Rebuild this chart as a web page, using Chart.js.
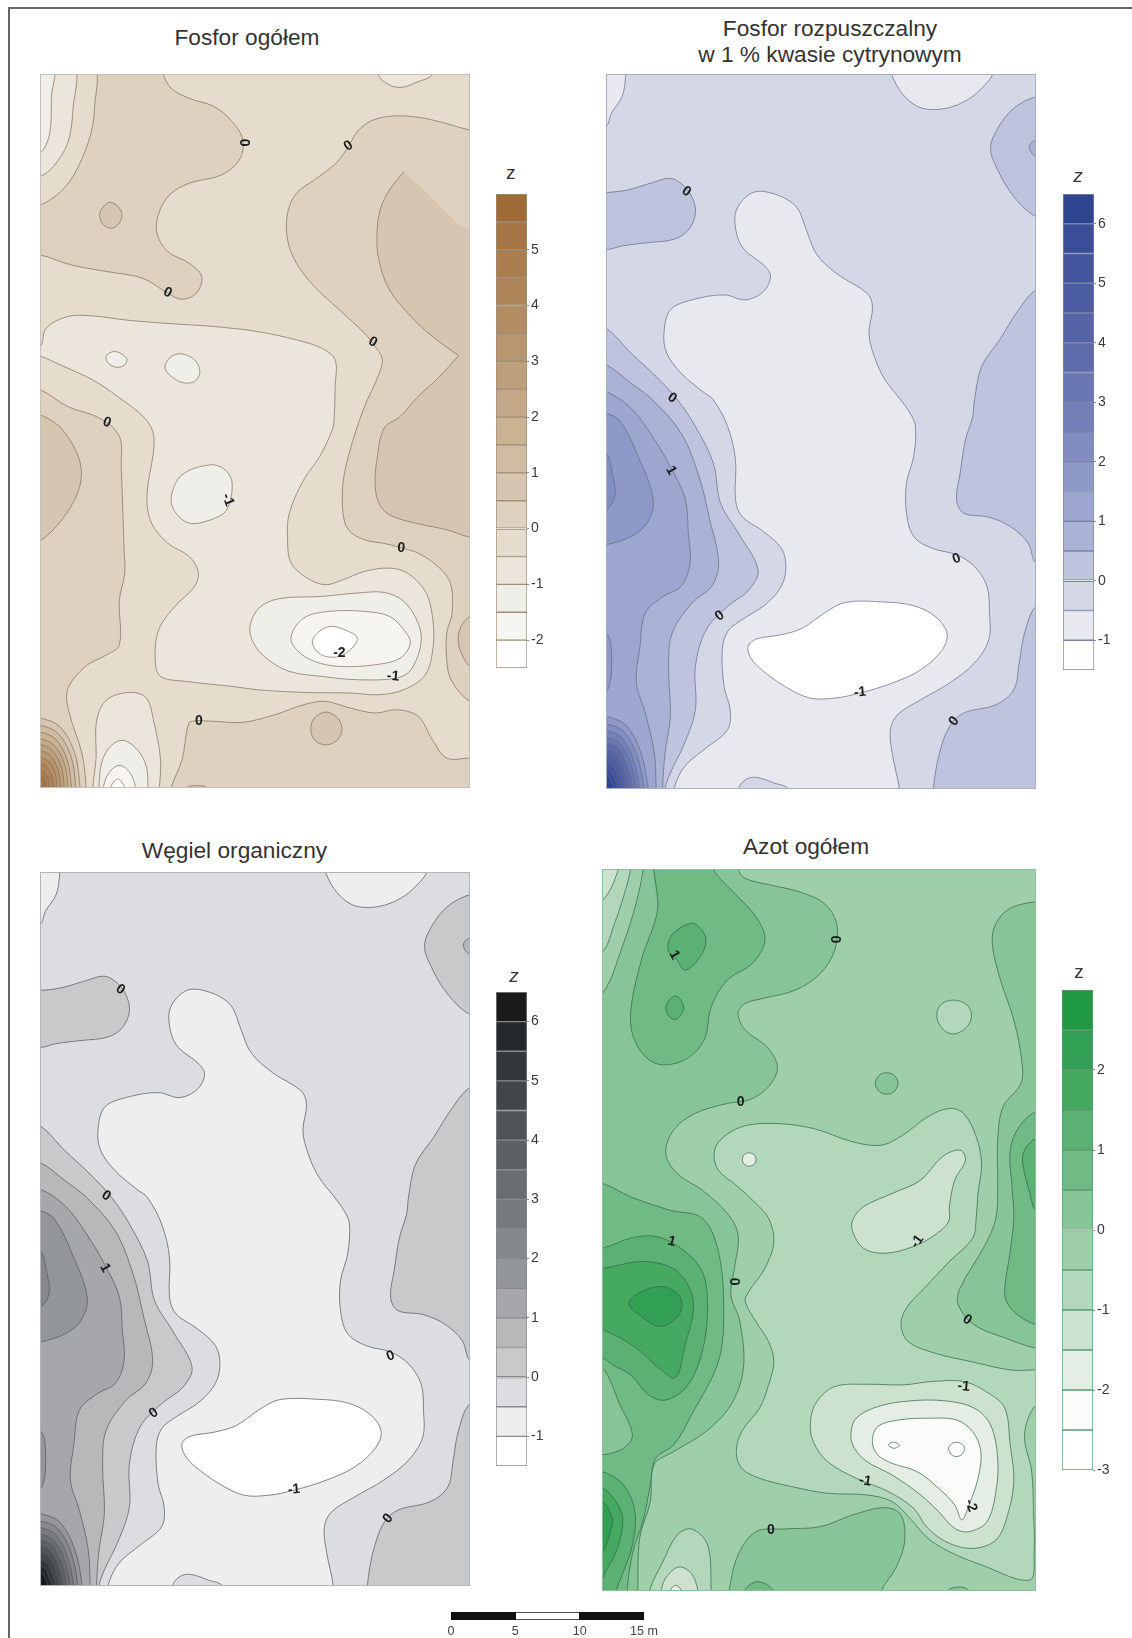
<!DOCTYPE html>
<html><head><meta charset="utf-8">
<script src="https://cdn.jsdelivr.net/npm/chart.js@4"></script>
<style>
html,body{margin:0;padding:0;background:#fff}
body{width:1132px;height:1638px;position:relative;overflow:hidden;font-family:"Liberation Sans",Arial,sans-serif;filter:blur(.45px)}
canvas{position:absolute;display:block}
.t{position:absolute;transform:translate(-50%,-50%);white-space:nowrap;color:#333;font-size:22.7px}
.z{position:absolute;transform:translate(-50%,-50%);color:#333;font-size:19px}
#frame{position:absolute;left:8px;top:7px;right:-5px;bottom:-5px;border-top:2px solid #666;border-left:2px solid #666}
</style></head><body>
<div id="frame"></div>
<script>
// Contour bands: [lower z of band, [x,y, x,y, ...]] in survey-grid units, painted in order.
const levelsA=[-2.5,-2,-1.5,-1,-0.5,0,0.5,1,1.5,2,2.5,3,3.5,4,4.5,5,5.5];
const colorsA=['#ffffff','#f6f5f1','#f0eee8','#ebe5db','#e5dccd','#dfd1c0','#d6c6b1','#cfbca3','#c9b393','#c3a988','#bca07c','#b89770','#b28d64','#ae8559','#aa7d4f','#a57546','#9f6b36'];
const ticksA=[-2,-1,0,1,2,3,4,5];
const levelsB=[-1.5,-1,-0.5,0,0.5,1,1.5,2,2.5,3,3.5,4,4.5,5,5.5,6];
const colorsB=['#ffffff','#e8e9ee','#d4d8e6','#bec4de','#aab3d6','#9ca6cf','#8e99c7','#818dc0','#7481b8','#6977b2','#5f6cab','#5564a7','#4c5ca2','#43549d','#3a4d98','#30458f'];
const colorsC=['#ffffff','#eeeeef','#dcdde0','#c8c9cb','#b7b8ba','#a5a7aa','#94979a','#85888c','#777b7f','#6a6e72','#5c6165','#4e5357','#414649','#33383b','#25292b','#181a1c'];
const ticksB=[-1,0,1,2,3,4,5,6];
const levelsD=[-3,-2.5,-2,-1.5,-1,-0.5,0,0.5,1,1.5,2,2.5];
const colorsD=['#ffffff','#fbfbf9','#e4eee5','#cde2ce','#b3d7bb','#9ecfaa','#87c498','#70ba86','#5ab173','#46a962','#32a054','#1f9a42'];
const ticksD=[-3,-2,-1,0,1,2];
const scaleSegments=[[0,5],[5,10],[10,15]];
const scaleTicks=[0,5,10,15];

const shapesA=[
[-0.5,[0,0,2000,0,2000,3000,0,3000,0,0]],
[0,[458,170,458,222,480,265,530,295,600,320,650,365,680,420,670,480,620,525,530,550,475,585,445,640,440,700,470,755,530,790,565,830,550,880,510,898,470,880,400,835,300,815,200,795,113,765,60,765,60,170,458,170]],
[0,[1315,390,1240,368,1170,352,1100,348,1040,362,1000,395,975,440,940,490,880,540,830,580,805,640,805,720,830,790,880,860,950,930,1020,1000,1050,1040,1070,1080,1050,1150,1028,1200,1000,1280,975,1370,960,1450,960,1540,975,1590,1020,1620,1080,1632,1125,1645,1170,1660,1225,1700,1260,1750,1265,1840,1250,1900,1250,1980,1262,2040,1315,2105,1360,2105,1360,390,1315,390]],
[0,[113,1170,190,1220,280,1255,335,1310,340,1400,348,1650,350,1720,335,1800,335,1935,300,1965,240,2000,190,2070,195,2140,230,2260,242,2365,242,2420,60,2420,60,1170,113,1170]],
[0,[480,2420,480,2365,510,2280,525,2185,535,2165,600,2165,680,2168,770,2145,850,2115,910,2105,980,2125,1050,2140,1110,2130,1170,2150,1210,2220,1250,2275,1315,2275,1360,2275,1360,2420,480,2420]],
[0.5,[1130,515,1130,515,1090,570,1065,625,1055,700,1060,780,1090,870,1150,950,1210,1010,1283,1067,1283,1067,1230,1130,1170,1190,1120,1250,1075,1285,1055,1380,1050,1460,1065,1520,1100,1550,1170,1572,1250,1590,1315,1612,1360,1612,1360,693,1315,693,1260,650,1200,585,1130,515,1130,515]],
[0.5,[1340,1850,1315,1850,1290,1880,1282,1925,1295,1970,1315,2000,1340,2000,1340,1850]],
[0.5,[310,607,335,625,342,650,330,675,310,685,288,672,280,645,290,620,310,607]],
[0.5,[113,1245,180,1295,228,1405,205,1510,113,1625,60,1625,60,1245,113,1245]],
[0.5,[912,2137,945,2155,957,2187,945,2220,912,2236,880,2220,870,2187,880,2155,912,2137]],
[0.5,[525,2420,525,2365,550,2358,580,2365,580,2420,525,2420]],
[-0.5,[258,190,265,330,250,420,205,530,160,585,113,615,60,625,60,190,258,190]],
[-1,[205,190,205,330,190,430,150,500,113,530,60,540,60,190,205,190]],
[-1.5,[150,190,145,290,140,400,113,460,60,470,60,190,150,190]],
[-1,[1060,190,1060,228,1090,255,1125,262,1170,245,1210,225,1210,190,1060,190]],
[-1,[113,1040,130,985,190,950,260,948,350,960,460,970,600,980,720,995,830,1020,900,1045,938,1080,938,1160,935,1260,930,1290,895,1370,850,1440,810,1540,805,1620,815,1690,860,1735,910,1755,960,1740,1020,1715,1090,1705,1140,1720,1190,1775,1210,1850,1212,1940,1190,2025,1130,2070,1060,2085,980,2080,850,2078,720,2070,650,2060,520,2045,450,2030,435,1980,445,1890,490,1820,545,1760,555,1715,530,1670,470,1630,425,1570,412,1490,432,1320,410,1260,330,1190,260,1140,180,1100,113,1068,60,1050,60,1040,113,1040]],
[-1.5,[325,1055,355,1075,350,1095,325,1102,300,1085,300,1065,325,1055]],
[-1.5,[510,1062,545,1080,560,1115,545,1145,510,1148,475,1125,462,1100,480,1070,510,1062]],
[-1.5,[590,1395,630,1410,650,1450,635,1530,590,1560,530,1570,490,1535,480,1490,510,1425,590,1395]],
[-1.5,[700,1880,725,1825,780,1797,900,1790,1000,1780,1075,1778,1130,1805,1170,1870,1178,1930,1150,2010,1110,2035,1000,2040,900,2030,810,2015,745,1975,710,1930,700,1880]],
[-2,[815,1910,850,1855,920,1835,1020,1835,1090,1850,1130,1890,1148,1930,1120,1975,1050,1995,950,2000,880,1985,830,1950,815,1910]],
[-2.5,[875,1920,900,1890,930,1880,975,1895,1000,1915,985,1945,950,1970,905,1968,880,1945,875,1920]],
[-1,[275,2420,270,2260,272,2160,300,2100,365,2078,410,2095,430,2160,450,2280,447,2365,447,2420,275,2420]],
[-1.5,[278,2420,278,2365,285,2290,310,2240,345,2222,385,2250,410,2300,415,2365,415,2420,278,2420]],
[-2,[290,2420,290,2365,305,2320,335,2297,365,2320,380,2365,380,2420,290,2420]],
[-2.5,[310,2420,310,2365,330,2338,350,2365,350,2420,310,2420]],
[0.5,[60,2155,113,2155,169,2182,210,2260,225,2365,225,2420,60,2420,60,2155]],
[1,[60,2177,113,2177,163,2201,200,2271,213,2365,213,2420,60,2420,60,2177]],
[1.5,[60,2197,113,2197,157,2219,189,2281,201,2365,201,2420,60,2420,60,2197]],
[2,[60,2217,113,2217,152,2237,181,2291,191,2365,191,2420,60,2420,60,2217]],
[2.5,[60,2235,113,2235,147,2252,172,2300,181,2365,181,2420,60,2420,60,2235]],
[3,[60,2253,113,2253,142,2268,163,2309,171,2365,171,2420,60,2420,60,2253]],
[3.5,[60,2273,113,2273,137,2285,155,2319,161,2365,161,2420,60,2420,60,2273]],
[4,[60,2293,113,2293,132,2303,146,2329,151,2365,151,2420,60,2420,60,2293]],
[4.5,[60,2313,113,2313,127,2320,137,2339,141,2365,141,2420,60,2420,60,2313]],
[5,[60,2333,113,2333,122,2337,128,2349,131,2365,131,2420,60,2420,60,2333]]
];
const labelsA=[[682,428,'0',90],[975,438,'0',-35],[470,878,'0',25],[1043,1027,'0',30],[300,1268,'0',20],[638,1500,'-1',70],[1123,1645,'0',5],[950,1960,'-2',0],[1100,2030,'-1',5],[557,2165,'0',0]];

// Soluble phosphorus and organic carbon share these read-off outlines.
const shapesB=[
[-0.5,[0,0,2000,0,2000,3000,0,3000,0,0]],
[-1,[60,190,155,190,155,230,145,290,115,340,100,380,60,380,60,190]],
[-1,[898,190,905,240,940,295,985,325,1050,325,1110,300,1150,265,1180,225,1180,190,898,190]],
[0,[1302,290,1240,325,1195,385,1175,445,1195,510,1240,590,1302,650,1350,650,1350,290,1302,290]],
[0.5,[1350,420,1302,420,1285,435,1285,450,1302,470,1350,470,1350,420]],
[0,[100,578,160,570,230,548,280,535,315,555,340,590,350,640,330,690,290,718,220,728,150,737,100,750,60,750,60,578,100,578]],
[-1,[520,575,590,590,635,625,660,690,690,765,750,825,830,880,845,920,835,1000,850,1070,880,1140,920,1195,950,1240,965,1280,960,1370,940,1450,940,1540,960,1610,1010,1645,1080,1665,1130,1700,1165,1760,1172,1840,1170,1920,1130,1990,1060,2050,980,2100,915,2145,895,2190,900,2260,920,2368,920,2420,290,2420,290,2368,320,2300,380,2245,440,2190,447,2130,430,2060,425,1950,440,1895,480,1860,545,1815,590,1760,603,1700,590,1645,540,1595,480,1550,462,1500,462,1380,440,1280,400,1200,370,1175,310,1120,270,1060,262,1000,280,930,340,900,430,885,490,900,540,875,560,830,545,800,480,740,460,660,475,610,520,575]],
[-0.5,[470,2420,470,2368,490,2340,520,2333,570,2350,610,2368,610,2420,470,2420]],
[-1.5,[497,1940,520,1918,590,1905,650,1885,710,1840,770,1808,880,1807,960,1818,1020,1850,1053,1900,1040,1950,980,2010,900,2050,810,2080,740,2095,670,2095,600,2060,535,2010,505,1975,497,1940]],
[0,[1302,870,1250,935,1200,1020,1150,1100,1130,1200,1125,1250,1105,1320,1090,1420,1080,1500,1100,1540,1170,1552,1230,1580,1280,1630,1302,1690,1350,1690,1350,870,1302,870]],
[0,[1302,1820,1270,1900,1255,1990,1240,2070,1190,2115,1100,2140,1060,2180,1030,2270,1015,2368,1015,2420,1350,2420,1350,1820,1302,1820]],
[0,[100,985,170,1060,240,1130,300,1200,350,1280,400,1390,420,1510,470,1600,525,1710,500,1770,440,1820,380,1890,350,2000,350,2130,320,2230,280,2320,265,2368,265,2420,60,2420,60,985,100,985]],
[0.5,[100,1095,170,1150,230,1200,310,1300,360,1430,390,1560,415,1690,395,1760,340,1810,285,1900,275,2000,280,2150,265,2260,258,2368,258,2420,60,2420,60,1095,100,1095]],
[1,[100,1175,170,1225,230,1310,285,1410,322,1500,330,1600,335,1690,310,1760,260,1790,210,1840,195,1940,185,2050,210,2140,235,2260,240,2368,240,2420,60,2420,60,1175,100,1175]],
[1.5,[100,1240,140,1265,190,1370,232,1500,215,1570,170,1610,100,1635,60,1635,60,1240,100,1240]],
[2,[60,1360,100,1360,118,1420,125,1490,100,1530,60,1530,60,1360]],
[1.5,[60,1900,100,1900,115,1950,105,2070,60,2070,60,1900]],
[1.5,[60,2150,100,2150,156,2177,197,2258,218,2368,218,2420,60,2420,60,2150]],
[2,[60,2172,100,2172,150,2196,187,2269,206,2368,206,2420,60,2420,60,2172]],
[2.5,[60,2192,100,2192,144,2214,176,2279,194,2368,194,2420,60,2420,60,2192]],
[3,[60,2212,100,2212,139,2232,168,2289,184,2368,184,2420,60,2420,60,2212]],
[3.5,[60,2230,100,2230,134,2247,159,2298,174,2368,174,2420,60,2420,60,2230]],
[4,[60,2248,100,2248,129,2263,150,2307,164,2368,164,2420,60,2420,60,2248]],
[4.5,[60,2268,100,2268,124,2280,142,2317,154,2368,154,2420,60,2420,60,2268]],
[5,[60,2288,100,2288,119,2298,133,2327,144,2368,144,2420,60,2420,60,2288]],
[5.5,[60,2308,100,2308,114,2315,124,2337,134,2368,134,2420,60,2420,60,2308]],
[6,[60,2328,100,2328,109,2332,115,2347,122,2368,122,2420,60,2420,60,2328]]
];
const labelsB=[[325,575,'0',35],[285,1195,'0',35],[282,1412,'1',60],[1080,1677,'0',-20],[418,1848,'0',-35],[810,2078,'-1',-5],[1073,2165,'0',-50]];

const shapesD=[
[-0.5,[0,0,2000,0,2000,3000,0,3000,0,0]],
[0,[470,100,470,147,490,175,560,195,640,215,710,250,745,310,740,390,700,460,630,510,540,535,490,550,470,580,490,630,550,680,580,740,555,800,500,840,440,850,350,880,290,930,268,1000,300,1060,370,1110,440,1180,470,1244,460,1344,450,1424,475,1504,485,1644,450,1754,380,1834,290,1894,235,1934,225,2044,195,2154,190,2312,190,2360,50,2360,50,100,470,100]],
[0,[1302,245,1230,265,1190,310,1180,370,1200,470,1240,600,1262,720,1260,790,1210,860,1195,960,1195,1100,1190,1194,1160,1274,1090,1404,1085,1454,1130,1514,1220,1555,1302,1584,1350,1584,1350,245,1302,245]],
[0.5,[1302,875,1255,920,1230,990,1235,1100,1240,1194,1230,1294,1215,1424,1240,1474,1302,1514,1350,1514,1350,875,1302,875]],
[1,[1302,955,1270,990,1265,1030,1285,1120,1302,1170,1350,1170,1350,955,1302,955]],
[0.5,[245,100,245,270,200,420,170,580,185,670,240,730,320,720,375,660,395,560,440,480,510,430,545,360,520,290,460,220,400,147,400,100,245,100]],
[1,[340,310,375,340,378,380,350,430,320,450,300,420,275,390,285,345,340,310]],
[1,[295,528,310,540,318,565,310,585,295,598,278,590,268,565,278,540,295,528]],
[-0.5,[205,100,205,147,185,250,150,370,92,520,50,520,50,100,205,100]],
[-1,[170,100,170,147,150,230,125,310,92,395,50,395,50,100,170,100]],
[-1.5,[135,100,135,150,92,240,50,240,50,100,135,100]],
[-1,[403,1000,420,960,480,920,570,910,680,925,790,965,870,975,930,945,1000,890,1060,865,1100,880,1135,950,1150,1030,1140,1120,1135,1194,1125,1254,1060,1324,990,1404,940,1464,925,1514,945,1564,1020,1599,1120,1624,1230,1649,1302,1649,1350,1649,1350,1754,1302,1754,1270,1844,1290,1954,1295,2074,1297,2194,1285,2279,1150,2234,1060,2194,1000,2154,950,2094,900,2044,830,2024,720,2019,620,1999,530,1974,480,1944,465,1894,480,1834,530,1764,555,1694,570,1624,555,1564,520,1504,490,1444,500,1414,545,1344,570,1264,555,1194,520,1150,470,1100,415,1050,403,1000]],
[-1.5,[1090,990,1105,1020,1075,1080,1060,1160,1058,1204,1020,1244,960,1279,880,1299,820,1284,790,1234,790,1200,820,1160,900,1120,980,1080,1040,1010,1090,990]],
[-2,[500,998,515,1004,520,1018,515,1032,500,1038,487,1032,482,1018,487,1004,500,998]],
[-1,[1070,540,1110,555,1122,590,1105,625,1070,642,1040,625,1025,590,1035,555,1070,540]],
[0,[885,758,905,765,917,790,905,815,885,822,865,815,853,790,865,765,885,758]],
[-1.5,[672,1804,690,1744,740,1699,830,1692,930,1694,1010,1684,1100,1684,1170,1719,1215,1764,1230,1874,1240,1984,1220,2094,1190,2159,1130,2184,1060,2169,1000,2124,960,2064,890,2014,800,1974,720,1924,680,1864,672,1804]],
[-2,[785,1844,800,1794,860,1759,950,1742,1050,1742,1130,1764,1175,1814,1195,1914,1190,2014,1165,2104,1115,2134,1075,2124,1030,2074,980,2024,900,1964,830,1924,795,1884,785,1844]],
[-2.5,[845,1864,860,1819,920,1799,1000,1794,1080,1799,1125,1834,1148,1894,1140,1974,1115,2054,1095,2099,1075,2054,1030,2004,970,1954,900,1929,860,1904,845,1864]],
[-3,[890,1874,897,1868,905,1866,915,1869,920,1876,913,1882,905,1884,897,1881,890,1874]],
[-3,[1058,1884,1065,1872,1080,1866,1095,1872,1103,1884,1095,1902,1080,1909,1065,1902,1058,1884]],
[0.5,[92,1090,170,1130,280,1170,370,1194,415,1294,430,1474,415,1624,340,1784,290,1874,240,1914,225,1994,205,2100,175,2200,160,2312,160,2360,50,2360,50,1090,92,1090]],
[0,[50,1644,92,1644,140,1754,175,1844,150,1884,92,1904,50,1904,50,1644]],
[1,[92,1284,170,1254,240,1249,310,1284,370,1354,385,1464,370,1594,330,1694,270,1739,220,1724,170,1664,120,1634,92,1614,50,1614,50,1284,92,1284]],
[1.5,[92,1344,210,1324,300,1354,345,1444,320,1584,295,1672,250,1644,180,1579,92,1529,50,1529,50,1344,92,1344]],
[2,[165,1449,210,1409,270,1401,310,1434,305,1484,255,1519,200,1489,165,1449]],
[1,[50,1954,92,1954,150,1994,182,2074,175,2174,150,2254,130,2312,130,2360,50,2360,50,1954]],
[1.5,[50,2004,92,2004,135,2054,148,2104,130,2194,100,2254,92,2274,50,2274,50,2004]],
[2,[50,2044,92,2044,115,2084,120,2104,105,2164,92,2194,50,2194,50,2044]],
[-1,[222,2360,222,2312,260,2224,300,2144,340,2126,385,2174,395,2312,395,2360,222,2360]],
[-1.5,[255,2360,255,2312,270,2270,305,2240,340,2260,358,2312,358,2360,255,2360]],
[-2,[280,2360,280,2312,296,2295,312,2312,312,2360,280,2360]],
[0,[445,2360,445,2312,470,2204,520,2134,600,2126,700,2119,790,2084,880,2062,925,2084,935,2164,910,2244,870,2312,870,2360,445,2360]],
[0.5,[487,2360,487,2312,525,2284,570,2312,570,2360,487,2360]],
[0,[1055,2360,1055,2312,1090,2300,1115,2312,1115,2360,1055,2360]]
];
const labelsD=[[292,405,'1',60],[740,358,'0',90],[477,847,'0',0],[285,1264,'1',15],[458,1384,'0',90],[970,1264,'-1',-55],[1110,1499,'0',35],[1100,1699,'-1',5],[825,1982,'-1',10],[1120,2056,'-2',70],[562,2129,'0',0]];

const contourLabelPlugin={id:'contourLabels',afterDatasetsDraw(c,a,o){
  const g=c.ctx,sx=c.scales.x,sy=c.scales.y;
  g.save();g.beginPath();g.rect(c.chartArea.left,c.chartArea.top,c.chartArea.width,c.chartArea.height);g.clip();
  g.font='bold 14px "Liberation Sans"';g.textAlign='center';g.textBaseline='middle';g.fillStyle=o.color;
  for(const [x,y,t,r] of o.items){g.save();g.translate(sx.getPixelForValue(x),sy.getPixelForValue(y));g.rotate(r*Math.PI/180);g.fillText(t,0,0);g.restore();}
  g.restore();
  g.strokeStyle=o.frame;g.lineWidth=1;g.strokeRect(c.chartArea.left+.5,c.chartArea.top+.5,c.chartArea.width-1,c.chartArea.height-1);
}};

function mk(left,top,w,h){const e=document.createElement('canvas');e.width=w;e.height=h;e.style.left=left+'px';e.style.top=top+'px';document.body.appendChild(e);return e;}
function pairs(f){
  const r=[];for(let i=0;i<f.length;i+=2)r.push({x:f[i],y:f[i+1]});
  const n=r.length;
  if(n>3&&r[0].x===r[n-1].x&&r[0].y===r[n-1].y){r.unshift({...r[n-2]});r.push({...r[2]});}
  return r;
}

function contourPanel(box,xr,yr,shapes,levels,colors,labels,line,frame){
  const ds=shapes.map(([z,p])=>{
    const data=pairs(p),last=data.length-1;
    return {data,backgroundColor:colors[levels.indexOf(z)],borderColor:line,borderWidth:1,fill:'shape',pointRadius:0,tension:.35,parsing:false,normalized:false,
      segment:{borderColor:ctx=>(ctx.p0DataIndex===0||ctx.p1DataIndex===last)?'rgba(0,0,0,0)':undefined}};
  }).reverse();
  new Chart(mk(box[0],box[1],box[2],box[3]),{type:'line',data:{datasets:ds},plugins:[contourLabelPlugin],options:{
    responsive:false,animation:false,events:[],layout:{padding:0},
    plugins:{legend:{display:false},tooltip:{enabled:false},contourLabels:{items:labels,color:'#1d1d1d',frame}},
    scales:{x:{type:'linear',display:false,min:xr[0],max:xr[1]},y:{type:'linear',display:false,reverse:true,min:yr[0],max:yr[1]}}}});
}
function colorBar(x,y0,y1,w,levels,colors,ticks,line){
  const pad=10,axisW=34,top=levels[levels.length-1]+0.5,bottom=levels[0];
  const ds=levels.map((l,i)=>({data:[[l,l+0.5]],backgroundColor:colors[i],borderColor:line,borderWidth:1,borderSkipped:false,barPercentage:1,categoryPercentage:1,grouped:false}));
  new Chart(mk(x,y0-pad,w+axisW,y1-y0+2*pad),{type:'bar',data:{labels:['z'],datasets:ds},options:{
    responsive:false,animation:false,events:[],layout:{padding:{top:pad,bottom:pad,left:0,right:0}},
    plugins:{legend:{display:false},tooltip:{enabled:false}},
    scales:{x:{display:false,stacked:false},
      y:{position:'right',min:bottom,max:top,
        afterBuildTicks:s=>{s.ticks=ticks.map(v=>({value:v}));},
        afterFit:s=>{s.width=axisW;s.paddingTop=0;s.paddingBottom=0;},
        border:{display:false},
        grid:{drawOnChartArea:false,drawTicks:true,tickLength:2,color:'#8a8a8a'},
        ticks:{autoSkip:false,padding:2,color:'#3a3a3a',font:{family:'Liberation Sans',size:14},callback:v=>String(v)}}}}});
}

contourPanel([40,74,430,714],[113,1315],[222,2365],shapesA,levelsA,colorsA,labelsA,'rgba(125,110,95,.7)','#c6c0b6');
contourPanel([606,74,430,715],[100,1302],[222,2368],shapesB,levelsB,colorsB,labelsB,'rgba(100,105,130,.7)','#a9aec4');
contourPanel([40,872,430,714],[100,1302],[222,2368],shapesB,levelsB,colorsC,labelsB,'rgba(85,85,85,.7)','#b4b4b4');
contourPanel([602,869,434,722],[90,1302],[147,2312],shapesD,levelsD,colorsD,labelsD,'rgba(50,100,70,.7)','#8fbf9c');

colorBar(496,194,668,31,levelsA,colorsA,ticksA,'#a08e78');
colorBar(1063,194,670,31,levelsB,colorsB,ticksB,'#7d84a8');
colorBar(496,992,1466,31,levelsB,colorsC,ticksB,'#8a8a8a');
colorBar(1062,990,1470,31,levelsD,colorsD,ticksD,'#5e9a72');

new Chart(mk(431,1608,243,30),{type:'bar',data:{labels:['m'],datasets:scaleSegments.map((s,i)=>({data:[s],backgroundColor:i===1?'#fff':'#111',borderColor:'#111',borderWidth:i===1?1:0,borderSkipped:false,barPercentage:1,categoryPercentage:1,grouped:false}))},options:{
  indexAxis:'y',responsive:false,animation:false,events:[],layout:{padding:{left:20,right:30,top:4,bottom:0}},
  plugins:{legend:{display:false},tooltip:{enabled:false}},
  scales:{y:{display:false},x:{min:0,max:15,afterBuildTicks:s=>{s.ticks=scaleTicks.map(v=>({value:v}));},afterFit:s=>{s.height=18;},border:{display:false},grid:{display:false,drawTicks:false},
    ticks:{autoSkip:false,maxRotation:0,padding:4,color:'#444',font:{family:'Liberation Sans',size:12.5},callback:v=>v===15?'15 m':String(v)}}}}});

const titles=[['Fosfor ogółem',247,37,'t'],['Fosfor rozpuszczalny',830,28,'t'],['w 1 % kwasie cytrynowym',830,54,'t'],['Węgiel organiczny',234.5,850,'t'],['Azot ogółem',806,846,'t'],['z',510.7,173,'z'],['z',1078,176,'z i'],['z',514,976,'z i'],['z',1079,972,'z']];
for(const [s,x,y,c] of titles){const d=document.createElement('div');d.className=c.split(' ')[0];d.textContent=s;d.style.left=x+'px';d.style.top=y+'px';if(c.includes('i'))d.style.fontStyle='italic';document.body.appendChild(d);}
</script>
</body></html>
